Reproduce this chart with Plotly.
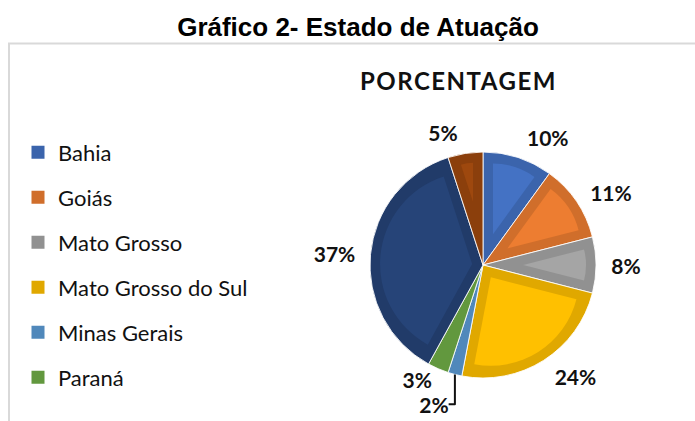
import math
import plotly.graph_objects as go

# ---- data ----
states = ["Bahia", "Goiás", "Mato Grosso", "Mato Grosso do Sul",
          "Minas Gerais", "Paraná", "São Paulo", "Tocantins"]
percent = [10, 11, 8, 24, 2, 3, 37, 5]
legend_states = states[:6]   # legend in the reference is cut after Paraná
fill_colors = ["#4472C4", "#ED7D31", "#A5A5A5", "#FFC000",
               "#5B9BD5", "#70AD47", "#264478", "#9E480E"]
title_text = "Gráfico 2- Estado de Atuação"
subtitle_text = "PORCENTAGEM"

# ---- geometry / style ----
W, H = 695, 421
CX, CY, R = 483, 265, 113      # pie centre / radius in px
BAND = 10                       # width of the darker inset border
LABEL_PAD = 9                   # big-slice labels sit a bit further out
SMALL = 4                       # slices below this % keep labels near the pie


def darker(hexc, f=0.88):
    h = hexc.lstrip("#")
    r, g, b = (int(h[i:i + 2], 16) for i in (0, 2, 4))
    return "#%02X%02X%02X" % (int(r * f), int(g * f), int(b * f))


band_colors = [darker(c) for c in fill_colors]
labels_txt = ["%d%%" % v for v in percent]
small_txt = [t if v < SMALL else "" for t, v in zip(labels_txt, percent)]
big_txt = [t if v >= SMALL else "" for t, v in zip(labels_txt, percent)]
label_font = dict(family="Lato", size=21, color="#111111", weight="bold")


def domain(cx, cy, r):
    return dict(x=[(cx - r) / W, (cx + r) / W],
                y=[(H - cy - r) / H, (H - cy + r) / H])


fig = go.Figure()

# outer pie (border colour) + labels of the small slices
fig.add_trace(go.Pie(
    labels=states, values=percent, sort=False, direction="clockwise",
    rotation=0, domain=domain(CX, CY, R), automargin=False,
    marker=dict(colors=band_colors, line=dict(color="rgba(255,255,255,0.85)", width=1)),
    text=small_txt, texttemplate="%{text}", textposition="outside",
    textfont=label_font, showlegend=False, hoverinfo="label+value",
))

# inner lighter wedges (inset fill of each slice)
total = sum(percent)
start = 0.0
for i, v in enumerate(percent):
    theta = 2 * math.pi * v / total
    mid = start + theta / 2
    a = BAND / math.sin(theta / 2) if theta < math.pi else BAND
    r_in = R - BAND - a
    if r_in > 6:
        acx = CX + a * math.sin(mid)
        acy = CY - a * math.cos(mid)
        fig.add_trace(go.Pie(
            values=[v, total - v], labels=[states[i], "_rest"], sort=False,
            direction="clockwise", rotation=math.degrees(start),
            domain=domain(acx, acy, r_in), automargin=False,
            marker=dict(colors=[fill_colors[i], "rgba(0,0,0,0)"],
                        line=dict(width=0)),
            textinfo="none", hoverinfo="skip", showlegend=False,
        ))
    start += theta

# transparent pie carrying the outside labels of the bigger slices
fig.add_trace(go.Pie(
    labels=states, values=percent, sort=False, direction="clockwise",
    rotation=0, domain=domain(CX, CY, R + LABEL_PAD), automargin=False,
    marker=dict(colors=["rgba(0,0,0,0)"] * len(states), line=dict(width=0)),
    text=big_txt, texttemplate="%{text}", textposition="outside",
    textfont=label_font, showlegend=False, hoverinfo="skip",
))

# legend entries
for name, col in zip(legend_states, band_colors):
    fig.add_trace(go.Scatter(
        x=[None], y=[None], mode="markers", name=name, legendgroup=name,
        marker=dict(symbol="square", size=13, color=col),
    ))

fig.update_layout(
    width=W, height=H,
    margin=dict(l=0, r=0, t=0, b=0),
    paper_bgcolor="white", plot_bgcolor="white",
    xaxis=dict(visible=False), yaxis=dict(visible=False),
    title=dict(text="<b>" + title_text + "</b>",
               font=dict(family="Liberation Sans", size=26, color="#000000"),
               x=358 / W, xanchor="center", y=1 - 27 / H, yanchor="middle"),
    legend=dict(x=18 / W, xanchor="left", y=1 - 131.5 / H, yanchor="top",
                font=dict(family="Lato", size=22, color="#111111"),
                tracegroupgap=13.4, bgcolor="rgba(0,0,0,0)"),
    annotations=[dict(
        text='<b><span style="letter-spacing:1.5px">' + subtitle_text + "</span></b>",
        xref="paper", yref="paper", x=458 / W, y=1 - 81 / H,
        xanchor="center", yanchor="middle", showarrow=False,
        font=dict(family="Lato", size=24, color="#111111"),
    )],
    shapes=[dict(type="rect", xref="paper", yref="paper",
                 x0=9 / W, x1=1.05, y0=-0.05, y1=1 - 43.5 / H,
                 line=dict(color="#D9D9D9", width=2), layer="below")],
)

fig.write_html("out.html")
